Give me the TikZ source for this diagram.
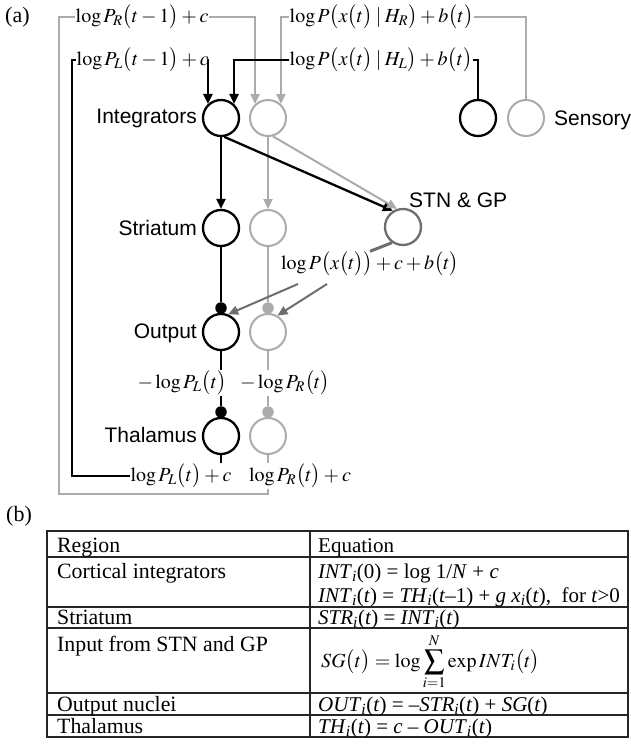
\documentclass[tikz,border=0pt]{standalone}
\usepackage{mathptmx}
\usepackage{fontspec}
\setmainfont{Liberation Serif}
\setsansfont{Liberation Sans}
\usetikzlibrary{arrows.meta}
\definecolor{lg}{HTML}{ABABAB}
\definecolor{dg}{HTML}{6E6E6E}
\newcommand{\sbi}{\textsubscript{\textit{i}}}
\newcommand{\lp}{\bigl(}
\newcommand{\rp}{\bigr)}
\tikzset{
 unit/.style={circle, draw, line width=2.3pt, minimum size=36pt, inner sep=0pt},
 bunit/.style={unit, draw=black},
 gunit/.style={unit, draw=lg, line width=2pt},
 sunit/.style={unit, draw=dg},
 fdot/.style={circle, inner sep=0pt, minimum size=11.5pt},
 areatxt/.style={font=\fontsize{21}{25}\selectfont\sffamily, inner sep=1pt},
 eqtxt/.style={font=\fontsize{20}{24}\selectfont, inner sep=0.5pt},
 bl/.style={line width=2.3pt, draw=black},
 gl/.style={line width=2pt, draw=lg},
 dl/.style={line width=2pt, draw=dg},
 arr/.style={-{Triangle[length=10pt,width=9pt]}},
 cellr/.style={font=\fontsize{21.8}{25}\selectfont, anchor=base west, inner sep=0pt},
 celle/.style={font=\fontsize{21}{25}\selectfont, anchor=base west, inner sep=0pt},
 tabrule/.style={line width=1.2pt, draw=black!85},
}
\begin{document}
\begin{tikzpicture}[x=1pt,y=-1pt]
\useasboundingbox (0,0) rectangle (631,747);
% panel letters
\node[anchor=west, font=\fontsize{22}{26}\selectfont, inner sep=0pt] (pa) at (5,17) {(a)};
\node[anchor=west, font=\fontsize{22}{26}\selectfont, inner sep=0pt] (pb) at (6,516) {(b)};
% units
\node[bunit] (bI) at (221,118) {};
\node[gunit] (gI) at (268,118) {};
\node[bunit] (bS) at (478,118) {};
\node[gunit] (gS) at (526,118) {};
\node[bunit] (bSt) at (221,228) {};
\node[gunit] (gSt) at (268,228) {};
\node[sunit] (stn) at (403,227) {};
\node[bunit] (bO) at (221,332) {};
\node[gunit] (gO) at (268,332) {};
\node[bunit] (bT) at (221,436) {};
\node[gunit] (gT) at (268,436) {};
% area names
\node[areatxt, anchor=east] (nI) at (198,118) {Integrators};
\node[areatxt, anchor=east] (nSt) at (198,228) {Striatum};
\node[areatxt, anchor=east] (nO) at (198,333) {Output};
\node[areatxt, anchor=east] (nT) at (198,435) {Thalamus};
\node[areatxt, anchor=west] (nS) at (553,120) {Sensory};
\node[areatxt, anchor=west] (nSTN) at (408,200) {STN \& GP};
% equations in panel (a)
\node[eqtxt, anchor=west] (lblRt) at (75,17) {$\log P_{R}\lp t-1\rp+c$};
\node[eqtxt, anchor=west] (lblLt) at (76,60) {$\log P_{L}\lp t-1\rp+c$};
\node[eqtxt, anchor=west] (lblHR) at (289,17) {$\log P\lp x\lp t\rp\mkern3mu|\mkern3mu H_{R}\rp+b\lp t\rp$};
\node[eqtxt, anchor=west] (lblHL) at (289,60) {$\log P\lp x\lp t\rp\mkern3mu|\mkern3mu H_{L}\rp+b\lp t\rp$};
\node[eqtxt] (stnlbl) at (370,264) {$\log P\lp x\lp t\rp\rp+c+b\lp t\rp$};
\node[eqtxt] (mL) at (182,383) {$-\log P_{L}\lp t\rp$};
\node[eqtxt] (mR) at (285,383) {$-\log P_{R}\lp t\rp$};
\node[eqtxt] (tL) at (181,476) {$\log P_{L}\lp t\rp+c$};
\node[eqtxt] (tR) at (300,476) {$\log P_{R}\lp t\rp+c$};
% inputs to integrators
\draw[gl, arr] (lblRt.east) -| (gI.133);
\draw[gl, arr] (lblHR.west) -| (gI.47);
\draw[bl, arr] (lblLt.east) -| (bI.133);
\draw[bl, arr] (lblHL.west) -| (bI.47);
\draw[gl] (lblHR.east) -| (gS.north);
\draw[bl] (lblHL.east) -| (bS.north);
% integrators to striatum and STN
\draw[bl, arr] (bI.south) -- (bSt.north);
\draw[gl, arr] (gI.south) -- (gSt.north);
\draw[bl, arr] (bI.-80) -- (stn.122);
\draw[gl, arr] (gI.-75) -- (stn.108);
% inhibitory dots
\node[fdot, fill=black] (bOd) at (221,308) {};
\node[fdot, fill=lg] (gOd) at (268,308) {};
\node[fdot, fill=black] (bTd) at (221,412) {};
\node[fdot, fill=lg] (gTd) at (268,412) {};
\draw[bl] (bSt.south) -- (bOd);
\draw[gl] (gSt.south) -- (gOd);
% STN output
\draw[dg, line width=3pt] (stn.235) -- (stnlbl.north);
\coordinate (s1) at (298,284);
\coordinate (s2) at (327,284);
\draw[dl, arr] (s1) -- (bO.68);
\draw[dl, arr] (s2) -- (gO.60);
% output to thalamus
\draw[bl] (bO.south) -- (bO.south |- mL.north);
\draw[bl] (bO.south |- mL.south) -- (bTd);
\draw[gl] (gO.south) -- (gO.south |- mR.north);
\draw[gl] (gO.south |- mR.south) -- (gTd);
% thalamus feedback
\draw[bl] (bT.south) -- (bT.south |- tL.north);
\draw[gl] (gT.south) -- (gT.south |- tR.north);
\draw[bl] (tL.west) -| ([xshift=-4pt]lblLt.west) -- (lblLt.west);
\draw[gl] (gT.south |- tR.south) -- ++(0,5) -| ([xshift=-16pt]lblRt.west) -- (lblRt.west);
% table (b)
\draw[tabrule] (47,531) rectangle (628,737);
\draw[tabrule] (310,531) -- (310,737);
\foreach \yy in {557,607,628,693,715} {\draw[tabrule] (47,\yy) -- (628,\yy);}
\node[cellr] (c1) at (57,552) {Region};
\node[celle] (c2) at (318,552) {Equation};
\node[cellr] (c3) at (57,578) {Cortical integrators};
\node[celle] (c4) at (318,578) {\textit{INT}\sbi(0) = log 1/\textit{N} + \textit{c}};
\node[celle] (c5) at (318,602) {\textit{INT}\sbi(\textit{t}) = \textit{TH}\sbi(\textit{t}–1) + \textit{g x}\sbi(\textit{t}),\ \ for \textit{t}>0};
\node[cellr] (c6) at (57,624) {Striatum};
\node[celle] (c7) at (318,624) {\textit{STR}\sbi(\textit{t}) = \textit{INT}\sbi(\textit{t})};
\node[cellr] (c8) at (57,651) {Input from STN and GP};
\node[celle, anchor=west, font=\fontsize{20}{24}\selectfont] (c9) at (321,662) {$\displaystyle SG\lp t\rp=\log\sum_{i=1}^{N}\exp INT_{i}\lp t\rp$};
\node[cellr] (c10) at (57,711) {Output nuclei};
\node[celle] (c11) at (318,711) {\textit{OUT}\sbi(\textit{t}) = –\textit{STR}\sbi(\textit{t}) + \textit{SG}(\textit{t})};
\node[cellr] (c12) at (57,733) {Thalamus};
\node[celle] (c13) at (318,733) {\textit{TH}\sbi(\textit{t}) = \textit{c} – \textit{OUT}\sbi(\textit{t})};
\end{tikzpicture}
\end{document}
